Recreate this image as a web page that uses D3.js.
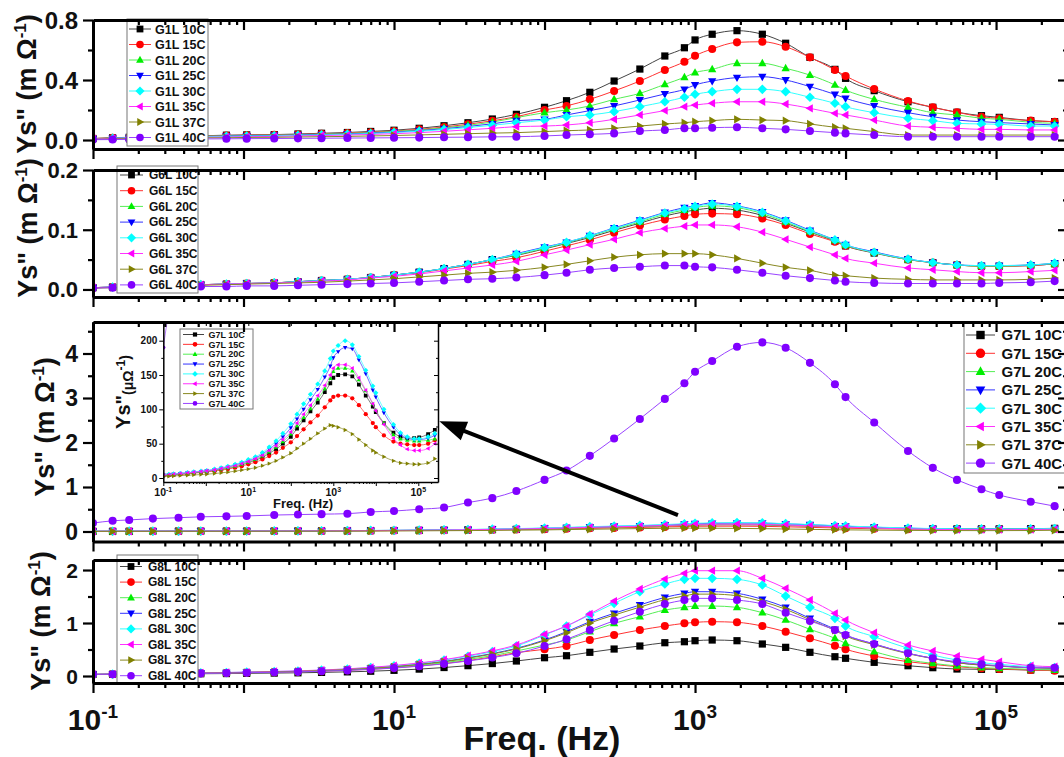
<!DOCTYPE html>
<html>
<head>
<meta charset="utf-8">
<script src="https://cdnjs.cloudflare.com/ajax/libs/d3/7.8.5/d3.min.js"></script>
<style>
  body { margin: 0; background: #fff; }
  svg { display: block; font-family: "Liberation Sans", Arial, Helvetica, sans-serif; font-weight: bold; }
</style>
</head>
<body>
<svg id="chart" width="1064" height="757"></svg>
<script>
// frequencies (Hz), shared by every sample
const freq = [0.1, 0.135, 0.174, 0.25, 0.37, 0.52, 0.77, 1.05, 1.6, 2.3, 3.3, 4.9, 7, 10, 14.7, 21.5, 31, 45, 65, 100,
  140, 200, 290, 430, 630, 850, 1000, 1300, 1900, 2800, 4000, 5800, 8500, 10000, 15500, 26000, 38000, 55000, 80000,
  105000, 170000, 245000];

const temps = ["10C", "15C", "20C", "25C", "30C", "35C", "37C", "40C"];

// G1L, Ys'' in mOhm^-1 (one row per temperature)
const g1L = [
  [0.01,0.015,0.018,0.022,0.026,0.028,0.032,0.034,0.036,0.04,0.045,0.05,0.057,0.065,0.078,0.095,0.115,0.14,0.171,0.218,0.262,0.318,0.393,0.473,0.56,0.615,0.667,0.705,0.729,0.705,0.645,0.551,0.471,0.411,0.329,0.255,0.218,0.185,0.162,0.151,0.129,0.122],
  [0.01,0.014,0.017,0.02,0.024,0.026,0.03,0.032,0.034,0.037,0.041,0.046,0.052,0.06,0.071,0.086,0.105,0.128,0.155,0.2,0.227,0.271,0.327,0.393,0.467,0.522,0.562,0.607,0.651,0.655,0.622,0.551,0.467,0.427,0.34,0.26,0.218,0.185,0.155,0.145,0.129,0.122],
  [0.009,0.013,0.016,0.019,0.022,0.025,0.028,0.03,0.032,0.035,0.039,0.043,0.049,0.057,0.067,0.081,0.098,0.12,0.149,0.182,0.2,0.227,0.271,0.311,0.371,0.418,0.449,0.471,0.511,0.511,0.478,0.433,0.367,0.333,0.271,0.218,0.182,0.167,0.145,0.138,0.118,0.111],
  [0.008,0.012,0.015,0.017,0.02,0.023,0.026,0.028,0.03,0.033,0.036,0.04,0.046,0.053,0.062,0.075,0.09,0.108,0.129,0.138,0.167,0.196,0.227,0.267,0.307,0.338,0.367,0.393,0.416,0.422,0.4,0.356,0.304,0.278,0.227,0.182,0.155,0.133,0.122,0.116,0.107,0.1],
  [0.008,0.011,0.014,0.016,0.019,0.022,0.024,0.026,0.028,0.031,0.034,0.038,0.043,0.05,0.058,0.07,0.083,0.098,0.115,0.133,0.155,0.167,0.189,0.222,0.255,0.285,0.305,0.322,0.338,0.338,0.322,0.285,0.245,0.222,0.182,0.145,0.129,0.111,0.107,0.105,0.093,0.093],
  [0.007,0.01,0.012,0.014,0.016,0.018,0.02,0.022,0.024,0.027,0.03,0.033,0.037,0.042,0.049,0.058,0.068,0.078,0.089,0.093,0.1,0.115,0.138,0.167,0.196,0.222,0.233,0.245,0.255,0.255,0.24,0.211,0.178,0.167,0.133,0.093,0.085,0.078,0.071,0.071,0.067,0.067],
  [0.005,0.007,0.009,0.011,0.012,0.014,0.015,0.017,0.018,0.02,0.022,0.024,0.027,0.03,0.034,0.038,0.042,0.046,0.049,0.056,0.062,0.067,0.078,0.093,0.107,0.115,0.122,0.129,0.138,0.133,0.129,0.107,0.085,0.078,0.056,0.033,0.033,0.033,0.033,0.033,0.033,0.033],
  [0.002,0.003,0.004,0.005,0.006,0.007,0.008,0.009,0.01,0.011,0.012,0.013,0.014,0.015,0.016,0.018,0.019,0.021,0.022,0.027,0.033,0.038,0.044,0.06,0.067,0.078,0.078,0.082,0.085,0.078,0.071,0.06,0.049,0.044,0.033,0.022,0.022,0.022,0.022,0.022,0.022,0.022]
];

// G6L, mOhm^-1
const g6L = [
  [0.003,0.004,0.005,0.006,0.007,0.008,0.009,0.01,0.011,0.013,0.015,0.017,0.02,0.024,0.029,0.035,0.042,0.05,0.057,0.068,0.077,0.087,0.099,0.111,0.123,0.13,0.133,0.136,0.133,0.124,0.111,0.096,0.081,0.073,0.061,0.05,0.045,0.041,0.039,0.039,0.04,0.043],
  [0.003,0.004,0.005,0.006,0.007,0.008,0.009,0.01,0.011,0.013,0.015,0.017,0.02,0.024,0.028,0.034,0.04,0.047,0.053,0.064,0.073,0.083,0.095,0.107,0.117,0.123,0.126,0.127,0.126,0.119,0.108,0.093,0.08,0.073,0.062,0.05,0.045,0.041,0.039,0.039,0.04,0.043],
  [0.003,0.004,0.005,0.006,0.007,0.008,0.009,0.01,0.011,0.013,0.015,0.017,0.02,0.024,0.029,0.035,0.042,0.05,0.058,0.069,0.078,0.089,0.101,0.113,0.126,0.133,0.137,0.14,0.137,0.127,0.113,0.097,0.082,0.074,0.062,0.05,0.045,0.041,0.039,0.039,0.041,0.043],
  [0.003,0.004,0.005,0.006,0.007,0.008,0.009,0.01,0.011,0.013,0.015,0.017,0.02,0.024,0.029,0.035,0.042,0.05,0.06,0.071,0.079,0.09,0.103,0.116,0.129,0.137,0.14,0.145,0.14,0.13,0.116,0.099,0.083,0.075,0.063,0.051,0.045,0.041,0.04,0.04,0.041,0.044],
  [0.003,0.004,0.005,0.006,0.007,0.008,0.009,0.01,0.011,0.013,0.015,0.017,0.02,0.024,0.029,0.035,0.042,0.05,0.059,0.07,0.079,0.09,0.102,0.115,0.128,0.135,0.139,0.143,0.139,0.129,0.115,0.098,0.083,0.075,0.062,0.051,0.045,0.041,0.04,0.04,0.041,0.044],
  [0.003,0.004,0.005,0.006,0.007,0.008,0.009,0.01,0.011,0.012,0.014,0.016,0.019,0.022,0.026,0.031,0.036,0.041,0.047,0.058,0.066,0.075,0.084,0.095,0.102,0.106,0.108,0.108,0.105,0.096,0.084,0.071,0.058,0.052,0.044,0.036,0.033,0.03,0.028,0.028,0.03,0.032],
  [0.002,0.003,0.004,0.005,0.006,0.007,0.008,0.009,0.01,0.011,0.012,0.014,0.016,0.018,0.021,0.024,0.027,0.029,0.032,0.037,0.042,0.048,0.054,0.058,0.06,0.06,0.06,0.058,0.052,0.044,0.037,0.032,0.024,0.023,0.019,0.017,0.016,0.016,0.016,0.016,0.017,0.019],
  [0.002,0.003,0.003,0.004,0.004,0.005,0.005,0.006,0.006,0.007,0.008,0.009,0.01,0.011,0.013,0.015,0.017,0.018,0.02,0.024,0.028,0.033,0.036,0.038,0.04,0.04,0.038,0.037,0.033,0.028,0.023,0.019,0.015,0.013,0.011,0.01,0.01,0.01,0.01,0.011,0.012,0.014]
];

// G7L, uOhm^-1 (main panel shows them in mOhm^-1, inset in uOhm^-1)
const g7L = [
  [4,4.5,5,5.5,6.5,7.5,8.5,9.5,11,12.5,14,16,19,22,26,30,36,42,50,60,72,84,97,110,125,138,146,150,151,148,136,120,104,96,80,66,60,58,58,59,64,70],
  [3.5,4,4.5,5,6,7,8,9,10,11.5,13,15,17,20,23,27,32,37,44,52,61,71,81,91,103,113,118,120,120,116,106,93,80,74,62,53,50,49,48,48,50,55],
  [4.5,5,5.5,6,7,8,9,10,11.5,13,15,17,20,23,27,32,38,45,53,64,76,88,101,115,130,145,155,160,160,156,143,127,108,99,80,63,57,55,54,54,55,57],
  [4.5,5,5.5,6.5,7.5,8.5,9.5,10.5,12,14,16,19,22,25,29,35,42,50,60,73,86,100,114,129,147,163,175,184,190,188,172,152,128,118,95,74,63,58,56,56,58,62],
  [5,5.5,6,7,8,9,10,11,13,15,17,20,23,27,31,37,45,54,65,79,93,108,122,137,156,174,185,193,200,194,177,157,134,124,100,78,66,60,57,57,60,65],
  [4.5,5,5.5,6.5,7.5,8.5,9.5,10.5,12,14,16,18,21,24,28,33,40,47,56,67,80,93,106,120,135,150,160,165,165,160,146,128,108,98,78,58,48,42,40,40,43,50],
  [2,2.5,3,3.5,4,4.5,5,5.5,6.5,7.5,8.5,10,11.5,13,15,18,21,25,30,36,43,50,57,65,72,77,76,74,70,64,56,48,40,37,31,25,22,21,20,20,22,28],
  [190,240,260,290,310,330,340,350,370,380,390,400,440,460,500,540,650,750,910,1160,1370,1700,2090,2530,2980,3330,3590,3830,4150,4250,4130,3790,3310,3020,2450,1810,1430,1160,950,820,670,570]
];

// G8L, mOhm^-1
const g8L = [
  [0.03,0.032,0.034,0.037,0.04,0.043,0.046,0.05,0.055,0.06,0.068,0.078,0.09,0.107,0.13,0.16,0.195,0.235,0.283,0.345,0.383,0.447,0.509,0.566,0.628,0.647,0.666,0.679,0.666,0.604,0.541,0.447,0.364,0.334,0.258,0.194,0.157,0.132,0.126,0.126,0.113,0.113],
  [0.03,0.034,0.038,0.042,0.046,0.05,0.056,0.063,0.071,0.08,0.092,0.108,0.128,0.153,0.19,0.235,0.29,0.36,0.44,0.504,0.566,0.679,0.774,0.868,0.943,0.994,1.013,1.025,1.013,0.943,0.836,0.711,0.572,0.504,0.377,0.27,0.221,0.176,0.145,0.132,0.113,0.1],
  [0.03,0.034,0.039,0.043,0.048,0.052,0.059,0.065,0.074,0.083,0.096,0.114,0.136,0.163,0.203,0.251,0.313,0.384,0.472,0.585,0.679,0.836,0.994,1.119,1.245,1.296,1.321,1.321,1.296,1.195,1.057,0.881,0.711,0.617,0.459,0.302,0.239,0.189,0.157,0.145,0.126,0.113],
  [0.03,0.035,0.04,0.045,0.05,0.055,0.062,0.069,0.079,0.089,0.104,0.123,0.148,0.178,0.222,0.276,0.345,0.424,0.522,0.679,0.836,1.025,1.183,1.34,1.484,1.56,1.591,1.591,1.56,1.447,1.296,1.088,0.881,0.774,0.604,0.428,0.334,0.251,0.208,0.189,0.157,0.145],
  [0.03,0.035,0.041,0.046,0.051,0.057,0.065,0.073,0.084,0.094,0.11,0.132,0.159,0.191,0.239,0.298,0.373,0.459,0.566,0.774,0.943,1.151,1.371,1.591,1.736,1.824,1.843,1.843,1.824,1.717,1.509,1.296,1.088,0.943,0.742,0.522,0.396,0.302,0.251,0.22,0.176,0.157],
  [0.03,0.036,0.041,0.047,0.052,0.058,0.066,0.074,0.086,0.097,0.113,0.135,0.163,0.197,0.246,0.308,0.385,0.474,0.585,0.786,0.943,1.17,1.415,1.642,1.83,1.937,1.987,1.987,1.987,1.843,1.654,1.434,1.183,1.057,0.817,0.585,0.472,0.377,0.315,0.27,0.195,0.176],
  [0.03,0.035,0.04,0.044,0.049,0.054,0.061,0.068,0.078,0.088,0.102,0.121,0.145,0.174,0.217,0.27,0.337,0.414,0.51,0.665,0.815,1.0,1.15,1.3,1.44,1.51,1.545,1.545,1.515,1.405,1.26,1.06,0.86,0.755,0.59,0.42,0.33,0.25,0.205,0.185,0.155,0.145],
  [0.03,0.034,0.038,0.042,0.046,0.05,0.056,0.062,0.07,0.078,0.09,0.106,0.125,0.149,0.185,0.229,0.284,0.348,0.428,0.566,0.692,0.868,1.044,1.214,1.358,1.434,1.465,1.465,1.434,1.358,1.195,1.038,0.868,0.774,0.604,0.428,0.334,0.27,0.22,0.195,0.157,0.157]
];

// axis ticks
const xLabelExps = [-1, 1, 3, 5];
const yTicks1 = [0, 0.4, 0.8], yMinor1 = [0.2, 0.6];
const yTicks2 = [0, 0.1, 0.2], yMinor2 = [0.05, 0.15];
const yTicks3 = [0, 1, 2, 3, 4], yMinor3 = [0.5, 1.5, 2.5, 3.5, 4.5];
const yTicks4 = [0, 1, 2], yMinor4 = [0.5, 1.5];
const insetYTicks = [0, 50, 100, 150, 200], insetYMinor = [25, 75, 125, 175];
const insetXLabelExps = [-1, 1, 3, 5];

// arrow annotation in panel 3 data units [Hz, mOhm^-1]
const arrowTail = [770, 0.37];
const arrowTip = [20, 2.48];

const colors = ["#000000", "#ff0000", "#00ee00", "#0000ff", "#00ffff", "#ff00ff", "#808000", "#8000ff"];
const lineColors = ["#444444", "#ff3333", "#55ee55", "#3333ff", "#33ffff", "#ff33ff", "#888822", "#9944ff"];
const shapes = ["square", "circle", "triUp", "triDown", "diamond", "triLeft", "triRight", "circle"];

function marker(type, s) {
  switch (type) {
    case "square": return `M${-s},${-s}h${2*s}v${2*s}h${-2*s}Z`;
    case "triUp": return `M0,${-1.25*s}L${1.15*s},${0.8*s}L${-1.15*s},${0.8*s}Z`;
    case "triDown": return `M0,${1.25*s}L${1.15*s},${-0.8*s}L${-1.15*s},${-0.8*s}Z`;
    case "triLeft": return `M${-1.25*s},0L${0.8*s},${-1.15*s}L${0.8*s},${1.15*s}Z`;
    case "triRight": return `M${1.25*s},0L${-0.8*s},${-1.15*s}L${-0.8*s},${1.15*s}Z`;
    case "diamond": return `M0,${-1.35*s}L${1.35*s},0L0,${1.35*s}L${-1.35*s},0Z`;
    default: { const r = s * 1.12; return `M${r},0A${r},${r} 0 1,1 ${-r},0A${r},${r} 0 1,1 ${r},0Z`; }
  }
}

function logTicks(dom) {
  const major = [], minor = [];
  for (let e = -2; e <= 7; e++) for (let k = 1; k <= 9; k++) {
    const v = k * Math.pow(10, e);
    if (v < dom[0] * 0.999 || v > dom[1]) continue;
    (k === 1 ? major : minor).push(v);
  }
  return {major, minor};
}

const svg = d3.select("#chart");
const defs = svg.append("defs");

const X0 = 93, X1 = 1068;
const x = d3.scaleLog().domain([0.1, Math.pow(10, 5.478)]).range([X0, X1]);
const xt = logTicks(x.domain());

const panels = [
  {name: "G1L", data: g1L, unit: 1, top: 20, bottom: 149, dom: [-0.06, 0.8], ticks: yTicks1, minor: yMinor1, fmt: d3.format(".1f"),
   tickFont: 24, labelX: 26, labelY: 84, legend: {x: 127, y: 19, w: 81, h: 127, row0: 29, step: 15.5, sym: 140, l0: 129, l1: 151, tx: 155, font: 12.5, s: 3.4}},
  {name: "G6L", data: g6L, unit: 1, top: 170, bottom: 297, dom: [-0.0126, 0.2], ticks: yTicks2, minor: yMinor2, fmt: d3.format(".1f"),
   tickFont: 22, labelX: 27, labelY: 228, legend: {x: 117, y: 166, w: 81, h: 127, row0: 175, step: 15.7, sym: 131.5, l0: 120, l1: 143, tx: 149, font: 12, s: 3.4}},
  {name: "G7L", data: g7L, unit: 1000, top: 322, bottom: 541.5, dom: [-0.2247, 4.708], ticks: yTicks3, minor: yMinor3, fmt: d3.format("d"),
   tickFont: 23, labelX: 44, labelY: 427, legend: {x: 964, y: 322, w: 120, h: 151, row0: 335, step: 18.3, sym: 980.5, l0: 966, l1: 995, tx: 1001.5, font: 15, s: 4.2}},
  {name: "G8L", data: g8L, unit: 1, top: 560, bottom: 683, dom: [-0.132, 2.189], ticks: yTicks4, minor: yMinor4, fmt: d3.format("d"),
   tickFont: 21, labelX: 40, labelY: 621, legend: {x: 117, y: 555, w: 81, h: 128, row0: 566.5, step: 15.6, sym: 131, l0: 120, l1: 142, tx: 148, font: 12, s: 3.4}}
];

function drawAxis(g, axisFn, scale, values, size, tr, domainW) {
  const a = axisFn(scale).tickValues(values).tickSizeInner(size).tickSizeOuter(0).tickFormat("");
  const sel = g.append("g").attr("transform", tr).call(a);
  if (domainW) sel.select(".domain").attr("stroke-width", domainW).attr("stroke", "#000");
  else sel.select(".domain").remove();
  sel.selectAll(".tick line").attr("stroke-width", 2.2).attr("stroke", "#000");
  return sel;
}

function drawSeries(g, xs, ys, rows, unit, s, lw) {
  const line = d3.line().x((d, i) => xs(freq[i])).y(d => ys(d / unit)).curve(d3.curveMonotoneX);
  rows.forEach((row, k) => {
    const sg = g.append("g");
    sg.append("path").attr("d", line(row)).attr("fill", "none").attr("stroke", lineColors[k]).attr("stroke-width", lw);
    sg.selectAll("path.m").data(row).enter().append("path").attr("class", "m")
      .attr("d", marker(shapes[k], s))
      .attr("transform", (d, i) => `translate(${xs(freq[i])},${ys(d / unit)})`)
      .attr("fill", colors[k]);
  });
}

function drawLegend(g, name, L) {
  const lg = g.append("g");
  lg.append("rect").attr("x", L.x).attr("y", L.y).attr("width", L.w).attr("height", L.h)
    .attr("fill", "#fff").attr("stroke", "#777").attr("stroke-width", 1);
  temps.forEach((t, k) => {
    const yy = L.row0 + k * L.step;
    lg.append("line").attr("x1", L.l0).attr("x2", L.l1).attr("y1", yy).attr("y2", yy)
      .attr("stroke", lineColors[k]).attr("stroke-width", 1);
    lg.append("path").attr("d", marker(shapes[k], L.s)).attr("transform", `translate(${L.sym},${yy})`).attr("fill", colors[k]);
    lg.append("text").attr("x", L.tx).attr("y", yy).attr("dy", "0.36em").attr("font-size", L.font)
      .attr("fill", "#111").text(`${name} ${t}`);
  });
}

panels.forEach((p, pi) => {
  const y = d3.scaleLinear().domain(p.dom).range([p.bottom, p.top]);
  const g = svg.append("g");
  const clipId = "clip" + pi;
  defs.append("clipPath").attr("id", clipId).append("rect")
    .attr("x", X0).attr("y", p.top).attr("width", X1 - X0).attr("height", p.bottom - p.top);
  const dg = g.append("g").attr("clip-path", `url(#${clipId})`);
  drawSeries(dg, x, y, p.data, p.unit, 3.6, 1);

  if (pi === 2) drawInset(g);

  drawLegend(g, p.name, p.legend);

  if (pi === 2) {
    const ax1 = x(arrowTail[0]), ay1 = y(arrowTail[1]), ax2 = x(arrowTip[0]), ay2 = y(arrowTip[1]);
    const ang = Math.atan2(ay2 - ay1, ax2 - ax1);
    const hl = 27, hw = 10;
    const bx = ax2 - hl * Math.cos(ang), by = ay2 - hl * Math.sin(ang);
    g.append("line").attr("x1", ax1).attr("y1", ay1).attr("x2", bx + 4 * Math.cos(ang)).attr("y2", by + 4 * Math.sin(ang))
      .attr("stroke", "#000").attr("stroke-width", 4);
    g.append("path").attr("fill", "#000").attr("d",
      `M${ax2},${ay2}L${bx + hw * Math.sin(ang)},${by - hw * Math.cos(ang)}L${bx - hw * Math.sin(ang)},${by + hw * Math.cos(ang)}Z`);
  }

  // axes: bottom out, top in, left out, right in
  const ag = g.append("g");
  drawAxis(ag, d3.axisBottom, x, xt.major, 10, `translate(0,${p.bottom})`, 3);
  drawAxis(ag, d3.axisBottom, x, xt.minor, 5, `translate(0,${p.bottom})`, 0);
  drawAxis(ag, d3.axisTop, x, xt.major, -10, `translate(0,${p.top})`, 3);
  drawAxis(ag, d3.axisTop, x, xt.minor, -5, `translate(0,${p.top})`, 0);
  drawAxis(ag, d3.axisLeft, y, p.ticks, 10, `translate(${X0},0)`, 3);
  drawAxis(ag, d3.axisLeft, y, p.minor, 5, `translate(${X0},0)`, 0);
  drawAxis(ag, d3.axisRight, y, p.ticks, -10, `translate(${X1},0)`, 3);
  drawAxis(ag, d3.axisRight, y, p.minor, -5, `translate(${X1},0)`, 0);

  p.ticks.forEach(v => {
    g.append("text").attr("x", X0 - 15).attr("y", y(v)).attr("dy", "0.36em").attr("text-anchor", "end")
      .attr("font-size", p.tickFont).attr("fill", "#111").text(p.fmt(v));
  });

  const lab = g.append("text").attr("transform", `translate(${p.labelX},${p.labelY}) rotate(-90)`)
    .attr("text-anchor", "middle").attr("dy", "0.36em").attr("font-size", 27).attr("fill", "#111");
  lab.append("tspan").text('Ys" (m \u03A9');
  lab.append("tspan").attr("font-size", 17).attr("dy", -10).text("-1");
  lab.append("tspan").attr("dy", 10).text(")");

  if (pi === 3) {
    xLabelExps.forEach(e => {
      const t = g.append("text").attr("x", x(Math.pow(10, e))).attr("y", 730).attr("text-anchor", "middle")
        .attr("font-size", 30).attr("fill", "#111");
      t.append("tspan").text("10");
      t.append("tspan").attr("font-size", 19).attr("dy", -12).text(e < 0 ? "-" + (-e) : String(e));
    });
    g.append("text").attr("x", 542).attr("y", 750).attr("text-anchor", "middle").attr("font-size", 34)
      .attr("fill", "#111").text("Freq. (Hz)");
  }
});

function drawInset(parent) {
  const L = 163.3, R = 438, T = 322, B = 482;
  const xi = d3.scaleLog().domain([0.1, Math.pow(10, (R - L) / 42.5 - 1)]).range([L, R]);
  const yi = d3.scaleLinear().domain([(478 - B) / 0.6865, (478 - T) / 0.6865]).range([B, T]);
  const g = parent.append("g");
  g.append("rect").attr("x", L).attr("y", T).attr("width", R - L).attr("height", B - T).attr("fill", "#fff");
  defs.append("clipPath").attr("id", "clipInset").append("rect").attr("x", L).attr("y", T).attr("width", R - L).attr("height", B - T);
  const dg = g.append("g").attr("clip-path", "url(#clipInset)");
  drawSeries(dg, xi, yi, g7L, 1, 1.9, 0.7);

  drawLegend(g, "G7L", {x: 180, y: 329, w: 73, h: 80, row0: 334.5, step: 9.85, sym: 195, l0: 183, l1: 204, tx: 208.5, font: 9, s: 2.1});

  const xti = logTicks(xi.domain());
  drawAxis(g, d3.axisBottom, xi, xti.major, 4, `translate(0,${B})`, 1.5);
  drawAxis(g, d3.axisBottom, xi, xti.minor, 2, `translate(0,${B})`, 0);
  drawAxis(g, d3.axisTop, xi, xti.major, -4, `translate(0,${T})`, 1.5);
  drawAxis(g, d3.axisTop, xi, xti.minor, -2, `translate(0,${T})`, 0);
  drawAxis(g, d3.axisLeft, yi, insetYTicks, 4, `translate(${L},0)`, 1.5);
  drawAxis(g, d3.axisLeft, yi, insetYMinor, 2, `translate(${L},0)`, 0);
  drawAxis(g, d3.axisRight, yi, insetYTicks, -4, `translate(${R},0)`, 1.5);
  drawAxis(g, d3.axisRight, yi, insetYMinor, -2, `translate(${R},0)`, 0);
  g.selectAll(".tick line").attr("stroke-width", 1);

  insetYTicks.forEach(v => {
    g.append("text").attr("x", L - 6).attr("y", yi(v)).attr("dy", "0.36em").attr("text-anchor", "end")
      .attr("font-size", 10).attr("fill", "#111").text(v);
  });
  insetXLabelExps.forEach(e => {
    const t = g.append("text").attr("x", xi(Math.pow(10, e))).attr("y", 496).attr("text-anchor", "middle")
      .attr("font-size", 10.5).attr("fill", "#111");
    t.append("tspan").text("10");
    t.append("tspan").attr("font-size", 7).attr("dy", -4).text(e < 0 ? "-" + (-e) : String(e));
  });
  g.append("text").attr("x", 303).attr("y", 508).attr("text-anchor", "middle").attr("font-size", 13)
    .attr("fill", "#111").text("Freq. (Hz)");
  const lab = g.append("text").attr("transform", "translate(123,392) rotate(-90)").attr("text-anchor", "middle")
    .attr("dy", "0.36em").attr("font-size", 20).attr("fill", "#111");
  lab.append("tspan").text('Ys"');
  lab.append("tspan").attr("font-size", 14).attr("dy", 3).text("(\u03BC\u03A9");
  lab.append("tspan").attr("font-size", 12).attr("dy", -8).text("-1");
  lab.append("tspan").attr("font-size", 14).attr("dy", 5).text(")");
}
</script>
</body>
</html>
